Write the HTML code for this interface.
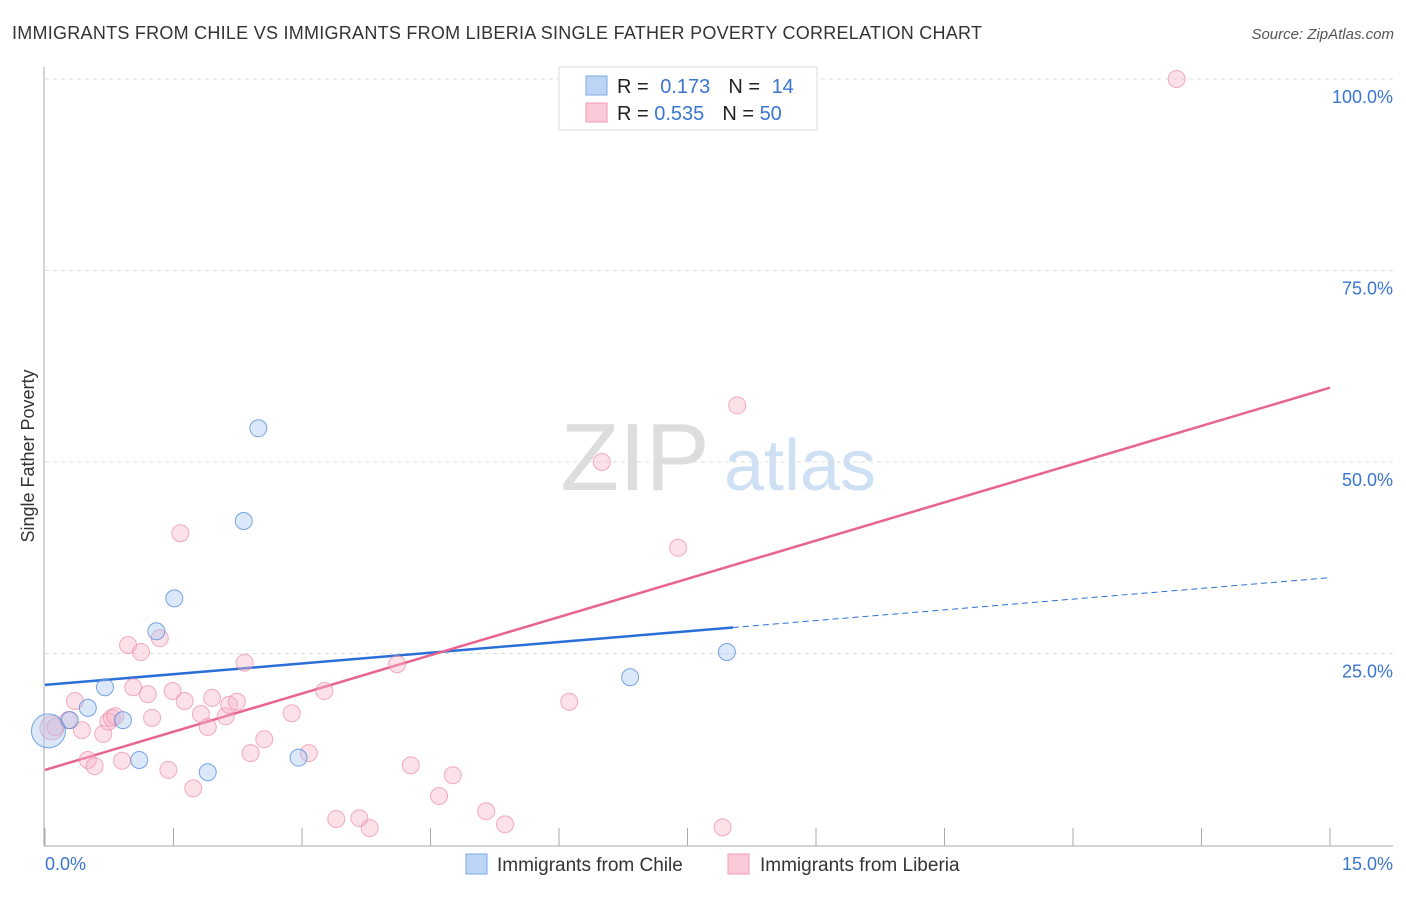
<!DOCTYPE html>
<html><head><meta charset="utf-8">
<style>
body{margin:0;background:#fff;font-family:"Liberation Sans",sans-serif;}
svg text{font-family:"Liberation Sans",sans-serif;}
</style></head>
<body>
<svg id="chart" width="1406" height="892" xmlns="http://www.w3.org/2000/svg">
<text x="12" y="39" font-size="18" fill="#333" textLength="970">IMMIGRANTS FROM CHILE VS IMMIGRANTS FROM LIBERIA SINGLE FATHER POVERTY CORRELATION CHART</text>
<text x="1394" y="39" font-size="15" fill="#555" font-style="italic" text-anchor="end">Source: ZipAtlas.com</text>
<text x="34" y="456" font-size="18" fill="#333" transform="rotate(-90 34 456)" text-anchor="middle">Single Father Poverty</text>
<g>
<text x="635" y="490" font-size="96" fill="#ddd" font-family="Liberation Serif" text-anchor="middle">ZIP</text>
<text x="800" y="490" font-size="72" fill="#cfe0f5" text-anchor="middle">atlas</text>
</g>
<g id="grid"></g>
<g id="axes"></g>
<g id="lines"></g>
<g id="points"></g>
<g>
<rect x="559" y="67" width="258" height="63" fill="#fff" stroke="#ddd"/>
<rect x="586" y="76" width="21" height="19" fill="#bcd5f5" stroke="#7aaae6"/>
<rect x="586" y="103" width="21" height="19" fill="#fbcad8" stroke="#f09ab5"/>
<text x="617" y="93" font-size="20" fill="#222">R = <tspan fill="#3a75d0" dx="6">0.173</tspan><tspan fill="#222" dx="18">N = </tspan><tspan fill="#3a75d0" dx="6">14</tspan></text>
<text x="617" y="120" font-size="20" fill="#222">R = <tspan fill="#3a75d0">0.535</tspan><tspan fill="#222" dx="18">N = </tspan><tspan fill="#3a75d0">50</tspan></text>
</g>
<g>
<rect x="466" y="854" width="21" height="20" fill="#bcd5f5" stroke="#7aaae6"/>
<text x="497" y="871" font-size="19" fill="#333">Immigrants from Chile</text>
<rect x="728" y="854" width="21" height="20" fill="#fbcad8" stroke="#f09ab5"/>
<text x="760" y="871" font-size="19" fill="#333">Immigrants from Liberia</text>
</g>
</svg>
<script>
const yTicks=[25,50,75,100];
const yTickLabels=["25.0%","50.0%","75.0%","100.0%"];
const xTickValues=[0,1.5,3,4.5,6,7.5,9,10.5,12,13.5,15];
const chileX=[0.04,0.29,0.50,0.70,0.91,1.10,1.30,1.51,1.90,2.32,2.49,2.96,6.83,7.96];
const chileY=[14.9,16.3,17.9,20.6,16.3,11.1,27.9,32.2,9.5,42.3,54.4,11.4,21.9,25.2];
const liberiaX=[0.08,0.12,0.27,0.35,0.43,0.50,0.58,0.68,0.74,0.78,0.82,0.90,0.97,1.03,1.12,1.20,1.25,1.34,1.44,1.49,1.58,1.63,1.73,1.82,1.90,1.95,2.11,2.15,2.24,2.33,2.40,2.56,2.88,3.08,3.26,3.40,3.67,3.79,4.11,4.27,4.60,4.76,5.15,5.37,6.12,6.50,7.39,7.91,8.08,13.21];
const liberiaY=[15.3,15.4,16.3,18.8,15.0,11.1,10.3,14.5,16.1,16.6,16.8,11.0,26.1,20.6,25.2,19.7,16.6,27.0,9.8,20.1,40.7,18.8,7.4,17.1,15.4,19.2,16.8,18.3,18.7,23.8,12.0,13.8,17.2,12.0,20.1,3.4,3.5,2.2,23.6,10.4,6.4,9.1,4.4,2.7,18.7,50.0,38.8,2.3,57.4,100.0];
const chileTrend=[20.9,34.9]; const chileSolidEnd=8.03;
const liberiaTrend=[9.8,59.7];

const NS="http://www.w3.org/2000/svg";
const X=v=>45+v/15*1285;
const Y=v=>845-v/100*766;
function mk(tag,attrs,parent){const e=document.createElementNS(NS,tag);for(const k in attrs)e.setAttribute(k,attrs[k]);document.getElementById(parent).appendChild(e);return e;}
yTicks.forEach((t,i)=>{
 const g=mk('line',{x1:45,x2:1393,y1:Y(t),y2:Y(t),stroke:'#ddd','stroke-dasharray':'4,4'},'grid');
 
 
 const tx=mk('text',{x:1393,y:Y(t)+24,'font-size':18,fill:'#3a75d0','text-anchor':'end'},'grid');
 tx.textContent=yTickLabels[i];
 
 
});
const ya=mk('line',{x1:44,x2:44,y1:67,y2:846,stroke:'#aaa'},'axes');


const xa=mk('line',{x1:44,x2:1393,y1:846,y2:846,stroke:'#aaa'},'axes');


xTickValues.forEach(v=>{
 const t=mk('line',{x1:X(v),x2:X(v),y1:828,y2:846,stroke:'#aaa'},'axes');
 
 
});
const l0=mk('text',{x:45,y:870,'font-size':18,fill:'#3a75d0'},'axes');l0.textContent='0.0%';


const l1=mk('text',{x:1393,y:870,'font-size':18,fill:'#3a75d0','text-anchor':'end'},'axes');l1.textContent='15.0%';



const cy=x=>chileTrend[0]+(chileTrend[1]-chileTrend[0])*x/15;
const bl=mk('line',{x1:X(0),y1:Y(cy(0)),x2:X(chileSolidEnd),y2:Y(cy(chileSolidEnd)),stroke:'#2a6fd6','stroke-width':2.5},'lines');


const bd=mk('line',{x1:X(chileSolidEnd),y1:Y(cy(chileSolidEnd)),x2:X(15),y2:Y(cy(15)),stroke:'#2a6fd6','stroke-width':1,'stroke-dasharray':'6,4'},'lines');


const pl=mk('line',{x1:X(0),y1:Y(liberiaTrend[0]),x2:X(15),y2:Y(liberiaTrend[1]),stroke:'#e8648f','stroke-width':2.5},'lines');



liberiaX.forEach((x,i)=>{
 const c=mk('circle',{cx:X(x),cy:Y(liberiaY[i]),r:i===0?12:8.5,fill:'rgba(248,180,200,0.4)',stroke:'rgba(236,130,165,0.65)','stroke-width':1},'points');
 
 
});
chileX.forEach((x,i)=>{
 const c=mk('circle',{cx:X(x),cy:Y(chileY[i]),r:i===0?17:8.5,fill:'rgba(165,198,240,0.4)',stroke:'rgba(70,130,215,0.7)','stroke-width':1},'points');
 
 
});
</script>
</body></html>
